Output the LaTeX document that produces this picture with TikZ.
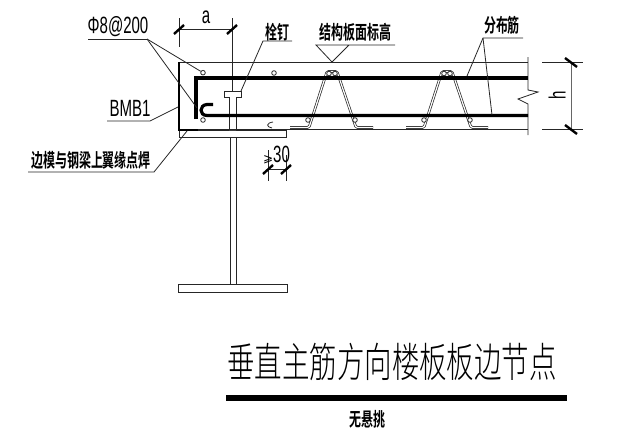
\documentclass[tikz,border=0pt]{standalone}
\usepackage{fontspec}
\setmainfont{Liberation Sans}
\newfontfamily\latinfont[FakeStretch=0.64]{Liberation Sans}
\newfontfamily\symfont{DejaVu Sans}
\newfontfamily\labelfont[FakeStretch=0.63]{Noto Sans CJK SC Bold}
\newfontfamily\titlefont[FakeStretch=0.67]{Noto Sans CJK SC Light}

\begin{document}
\begin{tikzpicture}[
        x=1pt,y=-1pt,
        thinline/.style={line width=0.8pt,black!85},
        rebar/.style={line width=3.2pt,black},
        formwork/.style={line width=2.4pt,black},
        lattice/.style={double=white,double distance=1.2pt,line width=0.7pt,black!85,rounded corners=1.5pt},
        barcircle/.style={circle,draw,thinline,fill=white,inner sep=0pt,minimum size=4.6pt},
        ticktext/.style={inner sep=0pt,font=\latinfont\fontsize{23.5}{23.5}\selectfont},
        cnlabel/.style={inner sep=0pt,font=\labelfont\fontsize{19}{19}\selectfont}
    ]

    \useasboundingbox (0,0) rectangle (632,439);

    % steel beam
    \draw[thinline] (179,130) rectangle (286,137.5);
    \draw[thinline] (230,137.5) -- (230,284);
    \draw[thinline] (236,137.5) -- (236,284);
    \draw[thinline] (178,284) rectangle (287,292);

    % deck lattice
    \draw[lattice] (290,127.5) -- (309,127.5) -- (327,71.5) -- (337,71.5) -- (356,127.5) -- (373,127.5);
    \draw[lattice] (406,127.5) -- (424,127.5) -- (442,71.5) -- (452,71.5) -- (471,127.5) -- (488,127.5);

    % stud
    \draw[thinline,fill=white] (229,130) -- (229,97) -- (224,97) -- (224,91) -- (241,91) -- (241,97) -- (236,97) -- (236,130);
    \draw[thinline] (232,18) -- (232,91);

    % slab
    \draw[thinline] (178,62) -- (528,62);
    \draw[thinline] (198,129) -- (528,129);
    \draw[thinline] (528,57) -- (528,90) -- (538,92) -- (518,99) -- (528,104) -- (528,135);
    \draw[formwork] (179,62) -- (179,130) -- (198,130);
    \draw[rebar] (196,119) -- (196,78) -- (528,78);
    \draw[rebar] (213,104.5) -- (207,104.5) .. controls (199,105) and (199,115.5) .. (207,115.5) -- (528,115.5);
    \draw[thinline] (273,122) .. controls (266,123) and (266,127) .. (272,128);

    % bars
    \node[barcircle] (bara) at (203,72.7) {};
    \node[barcircle] (barb) at (274,73) {};
    \node[barcircle] (barc) at (203,120) {};
    \node[barcircle] (bard) at (308,120) {};
    \node[barcircle] (bare) at (355,120) {};
    \node[barcircle] (barf) at (424,120) {};
    \node[barcircle] (barg) at (470,120) {};
    \node[barcircle] (barh) at (329,73.5) {};
    \node[barcircle] (bari) at (335,73.5) {};
    \node[barcircle] (barj) at (444,73.5) {};
    \node[barcircle] (bark) at (450,73.5) {};

    % dimension a
    \draw[thinline] (179,18) -- (179,47);
    \draw[thinline] (179,29) -- (232,29);
    \draw[formwork] (174,34) -- (184,25);
    \draw[formwork] (227,34) -- (237,25);
    \node[ticktext] (dima) at (206,17) {a};

    % dimension h
    \draw[thinline] (542,62) -- (583,62);
    \draw[thinline] (542,129) -- (583,129);
    \draw[line width=0.8pt,black!60] (571,62) -- (571,129);
    \draw[formwork] (565,58) -- (577,67);
    \draw[formwork] (565,125) -- (577,134);
    \node[ticktext,rotate=90] (dimh) at (557,95) {h};

    % dimension 30
    \draw[thinline] (268,150) -- (268,181);
    \draw[thinline] (286,155) -- (286,181);
    \draw[thinline] (268,169) -- (286,169);
    \draw[formwork] (263,174) -- (273,165);
    \draw[formwork] (281,174) -- (291,165);
    \node[ticktext] (dimthirty) at (276.5,155) {{\symfont\fontsize{12}{12}\selectfont ⩾}30};

    % labels
    \node[ticktext] (barlabel) at (118,27) {Φ8@200};
    \draw[thinline] (88,39) -- (147,39) coordinate (barroot);
    \draw[thinline] (barroot) -- (bara);
    \draw[thinline] (barroot) -- (197,108);

    \node[ticktext] (bmblabel) at (130,108) {BMB1};
    \draw[thinline] (107,121) -- (150,121) -- (178,107);

    \node[cnlabel] (studlabel) at (277.5,32) {栓钉};
    \draw[thinline] (292,41) -- (263,41) -- (241,91);

    \node[cnlabel] (levellabel) at (355.5,32) {结构板面标高};
    \draw[thinline] (395,45) -- (316,45) -- (332,62) -- (349,45);

    \node[cnlabel] (distlabel) at (502,25) {分布筋};
    \draw[thinline] (523,38) -- (483,38) -- (467,76);
    \draw[thinline] (483,38) -- (492,115);

    \node[cnlabel] (weldlabel) at (91,160) {边模与钢梁上翼缘点焊};
    \draw[thinline] (28,172) -- (154,172) -- (187,131);

    % title
    \node[inner sep=0pt,font=\titlefont\fontsize{41}{41}\selectfont] (title) at (392,361.5) {垂直主筋方向楼板板边节点};
    \draw[line width=6.5pt] (226,398) -- (567,398);
    \node[cnlabel] (subtitle) at (367.5,419) {无悬挑};

    \end{tikzpicture}
\end{document}
